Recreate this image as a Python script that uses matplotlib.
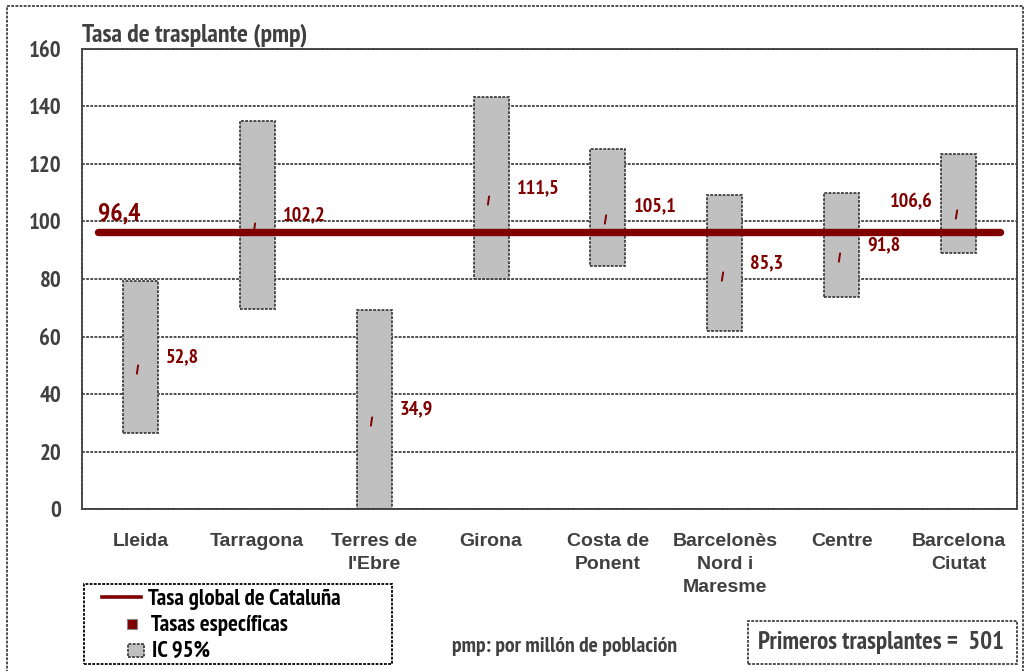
import matplotlib
matplotlib.use("Agg")
import matplotlib.pyplot as plt
from matplotlib import font_manager as fm
from matplotlib.patches import Rectangle
from matplotlib.lines import Line2D
from matplotlib.path import Path
from matplotlib.transforms import ScaledTranslation

# ---------------- data ----------------
categories = ["Lleida", "Tarragona", "Terres de\nl'Ebre", "Girona", "Costa de\nPonent",
              "Barcelonès\nNord i\nMaresme", "Centre", "Barcelona\nCiutat"]
rates = [52.8, 102.2, 34.9, 111.5, 105.1, 85.3, 91.8, 106.6]
ci_low = [26.6, 69.6, 0.0, 80.0, 84.7, 61.9, 73.9, 89.0]
ci_high = [79.4, 134.8, 69.1, 143.2, 125.1, 109.2, 109.9, 123.6]
global_rate = 96.4
yticks = [0, 20, 40, 60, 80, 100, 120, 140, 160]
first_transplants = 501

# ---------------- fonts ----------------
available = {f.name for f in fm.fontManager.ttflist}
def pick(prefs):
    for p in prefs:
        if p in available:
            return p
    return "DejaVu Sans"

narrow_font = pick(["Liberation Sans Narrow", "Arial Narrow", "PT Sans Narrow",
                    "Archivo Narrow", "Roboto Condensed", "Sofia Sans Condensed"])
wide_font = pick(["Liberation Sans", "Arimo", "Arial"])
NARROW = [narrow_font, "DejaVu Sans"]
WIDE = [wide_font, "DejaVu Sans"]

# ---------------- style ----------------
W, H = 1031, 671
DARKRED = "#800000"
GRAY_TXT = "#404040"
BOX_FILL = "#C0C0C0"
DASH = (0, (2, 1))
plt.rcParams["font.family"] = NARROW
plt.rcParams["font.weight"] = "bold"
plt.rcParams["lines.scale_dashes"] = False

fig = plt.figure(figsize=(W / 100, H / 100), dpi=100)
ax = fig.add_axes([82 / W, 1 - 509.4 / H, (1017 - 82) / W, (509.4 - 48.7) / H])

x = list(range(len(categories)))

# grid
ax.set_axisbelow(True)
ax.yaxis.grid(True, color=GRAY_TXT, linestyle=DASH, linewidth=1.3)
for s in ax.spines.values():
    s.set_linestyle(DASH)
    s.set_color(GRAY_TXT)
    s.set_linewidth(1.3)

# CI boxes
heights = [h - l for h, l in zip(ci_high, ci_low)]
ax.bar(x, heights, bottom=ci_low, width=0.3, color=BOX_FILL, edgecolor=GRAY_TXT,
       linestyle=DASH, linewidth=1.3, zorder=2)

# global line
ax.axhline(global_rate, xmin=0.017, xmax=0.982, color=DARKRED, linewidth=5.3,
           solid_capstyle="round", zorder=4)
ax.annotate(f"{global_rate:.1f}".replace(".", ","), xy=(0.017, global_rate),
            xycoords=("axes fraction", "data"), xytext=(0, 18), textcoords="offset pixels",
            ha="left", va="center", color=DARKRED, fontsize=18.5, fontweight="bold")

# specific-rate markers (small slanted dash)
dash_marker = Path([(-0.35, -1), (0.05, -1), (0.35, 1), (-0.05, 1), (-0.35, -1)],
                   [Path.MOVETO, Path.LINETO, Path.LINETO, Path.LINETO, Path.CLOSEPOLY])
mk_trans = ax.transData + ScaledTranslation(-0.03, -0.12, fig.dpi_scale_trans)
ax.plot(x, rates, linestyle="none", marker=dash_marker, markersize=7,
        color=DARKRED, markeredgewidth=0, transform=mk_trans, zorder=5)

# value labels
label_left = {7}
for i, v in enumerate(rates):
    txt = f"{v:.1f}".replace(".", ",")
    if i in label_left:
        ax.annotate(txt, xy=(i - 0.15, v), xytext=(-8, 0), textcoords="offset pixels",
                    ha="right", va="center", color=DARKRED, fontsize=14.5, fontweight="bold")
    else:
        ax.annotate(txt, xy=(i + 0.15, v), xytext=(8, 0), textcoords="offset pixels",
                    ha="left", va="center", color=DARKRED, fontsize=14.5, fontweight="bold")

ax.set_xlim(-0.5, len(categories) - 0.5)
ax.set_ylim(0, 160)
ax.set_yticks(yticks)
ax.set_yticklabels([str(t) for t in yticks], fontsize=16.5, color=GRAY_TXT, fontweight="bold")
ax.set_xticks(x)
ax.set_xticklabels(categories, fontsize=14, color=GRAY_TXT, fontweight="bold",
                   family=WIDE, linespacing=1.47)
ax.tick_params(axis="y", length=0, pad=15)
ax.tick_params(axis="x", length=0, pad=17)

# title
fig.text(82 / W, 1 - 41 / H, "Tasa de trasplante (pmp)", ha="left", va="baseline",
         fontsize=18.5, color=GRAY_TXT, fontweight="bold")

# outer dashed border
fig.add_artist(Rectangle((7 / W, -0.05), (1023 - 7) / W, 1 - 6 / H + 0.05,
                         transform=fig.transFigure, fill=False, edgecolor=GRAY_TXT,
                         linestyle=DASH, linewidth=1.3))

# legend (manual)
fig.add_artist(Rectangle((84 / W, 1 - 664 / H), 308 / W, 80 / H, transform=fig.transFigure,
                         fill=False, edgecolor="black", linestyle=DASH, linewidth=1.3))
fig.add_artist(Line2D([102 / W, 141 / W], [1 - 597 / H] * 2, transform=fig.transFigure,
                      color=DARKRED, linewidth=2.6))
fig.add_artist(Rectangle((127 / W, 1 - 629 / H), 10 / W, 10 / H, transform=fig.transFigure,
                         facecolor=DARKRED, edgecolor="#888888", linewidth=0.8))
fig.add_artist(Rectangle((128 / W, 1 - 657 / H), 16 / W, 13 / H, transform=fig.transFigure,
                         facecolor=BOX_FILL, edgecolor=GRAY_TXT, linestyle=DASH, linewidth=1.3))
fig.text(148 / W, 1 - 600 / H, "Tasa global de Cataluña", ha="left", va="center",
         fontsize=16.5, color="black", fontweight="bold")
fig.text(151 / W, 1 - 625 / H, "Tasas específicas", ha="left", va="center",
         fontsize=16.5, color="black", fontweight="bold")
fig.text(152 / W, 1 - 651 / H, "IC 95%", ha="left", va="center",
         fontsize=16.5, color="black", fontweight="bold")

# footnote
fig.text(452 / W, 1 - 647 / H, "pmp: por millón de población", ha="left", va="center",
         fontsize=15.6, color=GRAY_TXT, fontweight="bold")

# first transplants box
fig.add_artist(Rectangle((748 / W, 1 - 664 / H), 269 / W, 43.5 / H, transform=fig.transFigure,
                         fill=False, edgecolor=GRAY_TXT, linestyle=DASH, linewidth=1.3))
fig.text(758 / W, 1 - 643 / H, f"Primeros trasplantes =  {first_transplants}", ha="left",
         va="center", fontsize=18, color=GRAY_TXT, fontweight="bold")

fig.savefig("out.png", dpi=100)
